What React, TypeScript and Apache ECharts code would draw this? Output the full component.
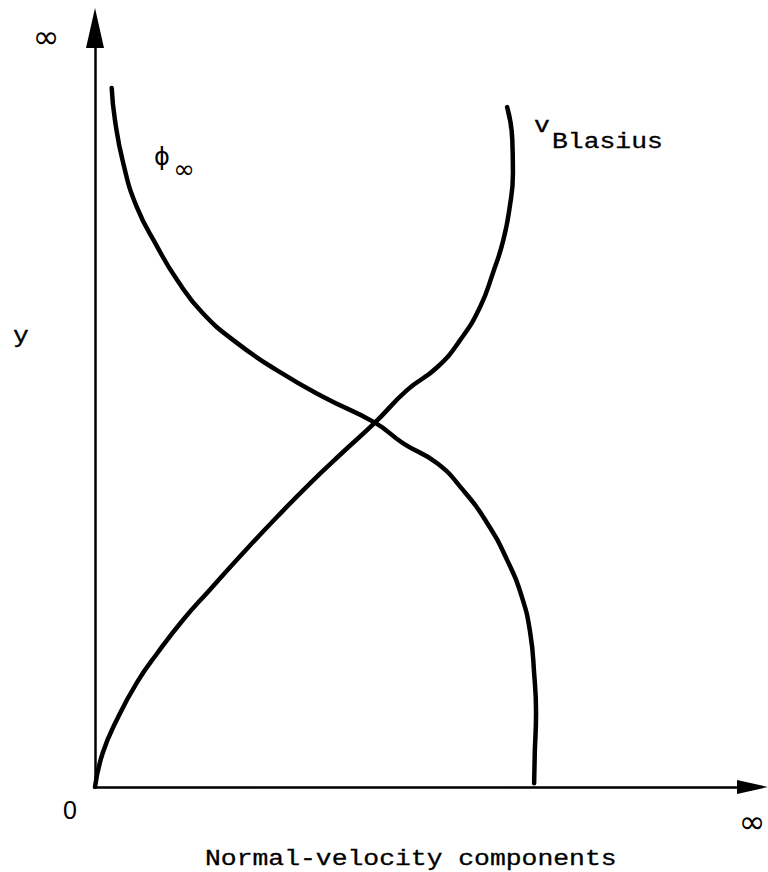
import React, { useEffect, useRef } from "react";
import * as echarts from "echarts";

// Normal-velocity profiles, x: velocity component, y: wall distance (arbitrary units, 0..10)
const phiX = [0.26, 0.31, 0.44, 0.65, 0.97, 1.28, 1.68, 2.21, 2.83, 3.55, 4.36, 4.8, 5.33, 5.73, 6.11, 6.42, 6.65, 6.78, 6.84, 6.87, 6.85, 6.84];
const phiY = [9.46, 9.03, 8.44, 7.85, 7.31, 6.86, 6.41, 6.01, 5.64, 5.28, 4.93, 4.65, 4.38, 4.02, 3.57, 3.07, 2.57, 2.08, 1.54, 1.0, 0.46, 0.05];

const blasiusX = [0, 0.12, 0.34, 0.65, 0.97, 1.37, 1.79, 2.31, 2.83, 3.35, 3.86, 4.36, 4.86, 5.33, 5.69, 6.0, 6.2, 6.36, 6.46, 6.51, 6.5, 6.42];
const blasiusY = [0, 0.46, 0.91, 1.41, 1.81, 2.26, 2.67, 3.17, 3.65, 4.11, 4.53, 4.93, 5.37, 5.68, 6.05, 6.5, 6.96, 7.4, 7.85, 8.31, 8.76, 9.2];

const axisMax = 10;
const xTitle = "Normal-velocity components";
const originLabel = "0";
const infinityLabel = "∞";
const yName = "y";

const MONO = "'Liberation Mono', 'Courier New', monospace";
const SANS = "'Liberation Sans', Arial, sans-serif";
const MATH = "'DejaVu Sans', sans-serif";

export default function App() {
  const ref = useRef<HTMLDivElement>(null);

  useEffect(() => {
    if (!ref.current) return;
    const chart = echarts.init(ref.current, null, { renderer: "svg" });

    const pairs = (xs: number[], ys: number[]) => xs.map((x, i) => [x, ys[i]]);
    const curveStyle = { color: "#000", width: 4.5, cap: "round" as const, join: "round" as const };
    const monoText = (text: string) => ({
      text,
      font: `22px ${MONO}`,
      fill: "#000",
      stroke: "#000",
      lineWidth: 0.3,
      align: "left",
      verticalAlign: "middle",
    });
    const mathText = (text: string, size: number) => ({
      text,
      font: `${size}px ${MATH}`,
      fill: "#000",
      align: "center",
      verticalAlign: "middle",
    });

    chart.setOption({
      animation: false,
      backgroundColor: "#fff",
      grid: { left: 95, right: 31, top: 48, bottom: 85 },
      xAxis: {
        type: "value",
        min: 0,
        max: axisMax,
        axisLine: {
          show: true,
          lineStyle: { color: "#000", width: 2.5 },
          symbol: ["none", "triangle"],
          symbolSize: [14, 31],
          symbolOffset: [0, 15.5],
        },
        axisTick: { show: false },
        axisLabel: { show: false },
        splitLine: { show: false },
      },
      yAxis: {
        type: "value",
        min: 0,
        max: axisMax,
        axisLine: {
          show: true,
          lineStyle: { color: "#000", width: 2.5 },
          symbol: ["none", "triangle"],
          symbolSize: [18, 40],
          symbolOffset: [0, 20],
        },
        axisTick: { show: false },
        axisLabel: { show: false },
        splitLine: { show: false },
      },
      series: [
        {
          name: "phi",
          type: "line",
          data: pairs(phiX, phiY),
          smooth: 0.5,
          showSymbol: false,
          lineStyle: curveStyle,
        },
        {
          name: "vBlasius",
          type: "line",
          data: pairs(blasiusX, blasiusY),
          smooth: 0.5,
          showSymbol: false,
          lineStyle: curveStyle,
        },
      ],
      graphic: [
        { type: "text", x: 46, y: 37, style: mathText(infinityLabel, 32) },
        { type: "text", x: 13, y: 336, scaleX: 1.2, style: monoText(yName) },
        {
          type: "text",
          x: 70,
          y: 810,
          style: { text: originLabel, font: `25px ${SANS}`, fill: "#000", align: "center", verticalAlign: "middle" },
        },
        { type: "text", x: 752, y: 822, style: mathText(infinityLabel, 32) },
        { type: "text", x: 205, y: 859, scaleX: 1.2, style: monoText(xTitle) },
        { type: "text", x: 162, y: 157, style: mathText("ϕ", 24) },
        { type: "text", x: 184, y: 169, style: mathText(infinityLabel, 26) },
        { type: "text", x: 534, y: 126, scaleX: 1.2, style: monoText("v") },
        { type: "text", x: 552, y: 142, scaleX: 1.2, style: monoText("Blasius") },
      ],
    });

    return () => chart.dispose();
  }, []);

  return (
    <div
      ref={ref}
      style={{ position: "fixed", left: 0, top: 0, width: 768, height: 872, background: "#fff" }}
    />
  );
}
